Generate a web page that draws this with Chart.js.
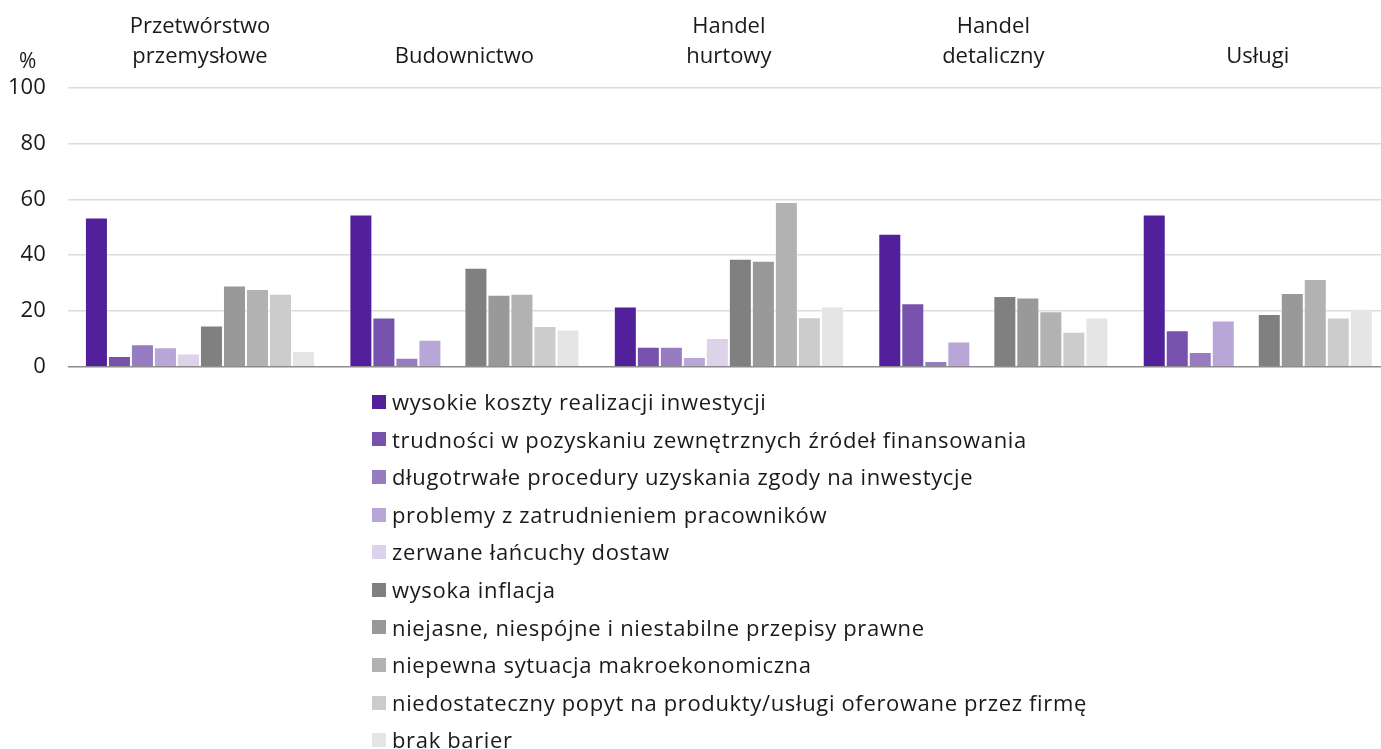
<!DOCTYPE html>
<html>
<head>
<meta charset="utf-8">
<script src="https://cdn.jsdelivr.net/npm/chart.js@4/dist/chart.umd.min.js"></script>
<style>
  html, body { margin: 0; padding: 0; background: #fff; }
  body { width: 1381px; height: 749px; position: relative; overflow: hidden; font-family: 'Open Sans', sans-serif; }
  #wrap { position: absolute; left: -24px; top: -14px; width: 1414px; height: 416px; }
  #legend { position: absolute; left: 372px; top: 383px; margin: 0; padding: 0; list-style: none; }
  #legend li { height: 37.6px; line-height: 37.6px; font-size: 22px; letter-spacing: 0.65px; color: #1a1a1a; white-space: nowrap; display: flex; align-items: center; }
  #legend li span.box { display: inline-block; width: 14px; height: 14px; margin-right: 6px; }
</style>
</head>
<body>
<div id="wrap"><canvas id="c"></canvas></div>
<ul id="legend"></ul>
<script>
const categories = [
  ['Przetwórstwo', 'przemysłowe'],
  'Budownictwo',
  ['Handel', 'hurtowy'],
  ['Handel', 'detaliczny'],
  'Usługi'
];
const seriesNames = [
  'wysokie koszty realizacji inwestycji',
  'trudności w pozyskaniu zewnętrznych źródeł finansowania',
  'długotrwałe procedury uzyskania zgody na inwestycje',
  'problemy z zatrudnieniem pracowników',
  'zerwane łańcuchy dostaw',
  'wysoka inflacja',
  'niejasne, niespójne i niestabilne przepisy prawne',
  'niepewna sytuacja makroekonomiczna',
  'niedostateczny popyt na produkty/usługi oferowane przez firmę',
  'brak barier'
];
const wysokieKoszty   = [53.5, 54.6, 21.6, 47.7, 54.6];
const trudnosci       = [3.9, 17.7, 7.2, 22.8, 13.1];
const procedury       = [8.1, 3.2, 7.2, 2.1, 5.3];
const pracownicy      = [7.0, 9.7, 3.5, 9.1, 16.6];
const lancuchy        = [4.8, 0.3, 10.3, 0, 0];
const inflacja        = [14.8, 35.5, 38.7, 25.4, 18.9];
const przepisy        = [29.1, 25.8, 38.0, 24.8, 26.5];
const makro           = [27.9, 26.2, 59.1, 19.9, 31.5];
const popyt           = [26.2, 14.6, 17.8, 12.6, 17.7];
const brakBarier      = [5.7, 13.4, 21.6, 17.7, 20.8];
const yTicks = [0, 20, 40, 60, 80, 100];

const seriesValues = [wysokieKoszty, trudnosci, procedury, pracownicy, lancuchy, inflacja, przepisy, makro, popyt, brakBarier];
const colors = ['#51209a', '#7652ad', '#987cc2', '#b8a6d6', '#dcd2ea', '#808080', '#999999', '#b2b2b2', '#cccccc', '#e5e5e5'];

const FONT = "'Open Sans', sans-serif";
const TXT = '#1a1a1a';

const percentPlugin = {
  id: 'percentLabel',
  afterDraw(chart) {
    const ctx = chart.ctx;
    const a = chart.chartArea;
    ctx.save();
    ctx.font = '21px ' + FONT;
    ctx.fillStyle = TXT;
    ctx.textAlign = 'center';
    ctx.textBaseline = 'middle';
    ctx.fillText('%', a.left - 40, a.top - 26);
    ctx.restore();
  }
};

const chart = new Chart(document.getElementById('c'), {
  type: 'bar',
  data: {
    labels: categories,
    datasets: seriesNames.map((n, i) => ({
      label: n,
      data: seriesValues[i],
      backgroundColor: colors[i],
      borderColor: 'rgba(255,255,255,0.35)',
      borderWidth: 1,
      categoryPercentage: 0.87,
      barPercentage: 1.0
    }))
  },
  options: {
    responsive: true,
    maintainAspectRatio: false,
    animation: false,
    layout: { padding: { top: 10, left: 10, right: 0, bottom: 0 } },
    plugins: {
      legend: { display: false },
      tooltip: { enabled: false }
    },
    scales: {
      x: {
        position: 'top',
        grid: { display: false, drawTicks: false },
        border: { display: false },
        ticks: {
          color: TXT,
          font: { family: FONT, size: 22, lineHeight: 1.36 },
          padding: 16,
          maxRotation: 0,
          autoSkip: false
        }
      },
      y: {
        min: 0, max: 100,
        afterBuildTicks(scale) { scale.ticks = yTicks.map(v => ({ value: v })); },
        grid: {
          drawTicks: false,
          color: ctx => ctx.tick && ctx.tick.value === 0 ? '#8c8c8c' : '#dcdcdc',
          lineWidth: 1.5
        },
        border: { display: false },
        ticks: {
          color: TXT,
          font: { family: FONT, size: 22 },
          padding: 22
        }
      }
    }
  },
  plugins: [percentPlugin]
});

const legendEl = document.getElementById('legend');
chart.data.datasets.forEach(ds => {
  const li = document.createElement('li');
  const box = document.createElement('span');
  box.className = 'box';
  box.style.background = ds.backgroundColor;
  li.appendChild(box);
  li.appendChild(document.createTextNode(ds.label));
  legendEl.appendChild(li);
});
</script>
</body>
</html>
